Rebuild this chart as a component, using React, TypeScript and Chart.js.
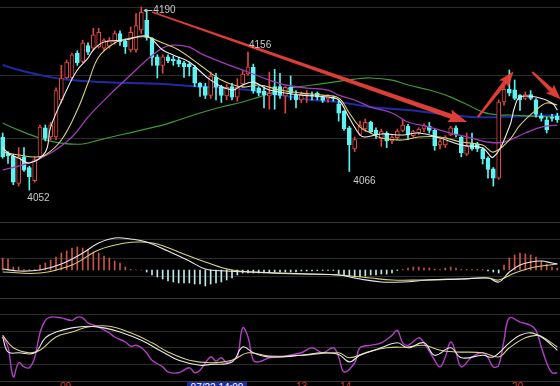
import React, { useEffect, useRef } from "react";
import { Chart, registerables } from "chart.js";

Chart.register(...registerables);

const N = 105;
const candleLabels = Array.from({ length: N }, (_, i) => String(i));

// ---- candles ----
const opens = [4092,4080,4077.6,4057,4077,4069,4059,4077,4099,4092,4092,4120,4136.5,4137,4155,4149,4161,4159,4160,4159,4160.5,4163.6,4170,4164.4,4157.6,4157.6,4172.7,4180,4166.6,4152.5,4146,4152.5,4150.5,4150,4148,4147,4144.5,4132.5,4130,4123.4,4137,4130,4123,4130,4122,4132,4139.5,4144.5,4129,4126.6,4123,4130,4130,4123,4129.5,4123.4,4120,4123,4123.4,4125,4122,4120.5,4121.5,4117,4111.5,4099,4083,4094,4098,4103,4097,4091,4095,4089,4091.5,4097,4100,4093,4095,4098,4100,4097,4086,4086,4093.5,4099,4092,4079,4087,4086.5,4083,4076,4068,4061,4118.4,4128,4127.5,4123.5,4121,4124,4120,4108,4105,4107,4108];
const highs = [4095,4081,4079,4084,4084,4070,4077,4101,4101,4103,4129,4146,4150,4155,4157,4165,4163,4174,4174,4166,4167,4172,4172,4166,4175,4185,4190,4188,4167,4154,4154,4154,4153,4152,4149,4148,4146,4133,4132.5,4141,4140,4131,4131.5,4132.5,4136,4142,4156,4147,4130,4130,4141,4143,4140,4130,4138,4127,4126,4127,4126,4126,4123,4124,4123,4119.5,4112,4100,4092,4104,4105.5,4104,4099,4098,4096,4093,4098,4105,4101.5,4097,4099,4102,4103,4098,4090,4093,4100,4100.5,4093,4095,4095,4088,4084,4077,4069,4120,4130,4142.5,4135,4124,4126,4127,4121,4110,4107,4109,4110];
const lows = [4076,4072,4056,4055,4066,4052,4058,4076,4089,4090,4090,4117.6,4136,4136,4146,4148,4154,4157.6,4159,4157,4159,4162,4161,4155,4156,4156,4170,4165,4146,4136.5,4140,4148,4146,4145,4137,4138,4130,4122.6,4121,4121,4120,4118,4120,4120,4119,4129.5,4138.7,4125,4123,4114,4113,4113,4121,4110,4120,4114,4118,4118,4120,4120,4118,4118,4119,4104,4097,4066,4081,4093,4096,4095,4091,4085,4084,4087,4090,4096,4090,4092,4094,4096,4095,4082,4083,4084,4093,4092,4077,4078,4082,4081,4071.6,4061,4055,4060,4116,4123,4120,4112,4120,4120,4107,4104,4095,4104,4103];
const closes = [4077,4078,4058,4077,4067,4062,4075,4099.5,4091,4101,4127,4136.5,4148.5,4154,4148,4163,4156,4169,4171,4165,4165,4170,4163.6,4160,4171,4176,4186,4167,4152,4146,4152.5,4149.5,4149.5,4147,4145,4145,4132.5,4129.5,4123.4,4138,4129.5,4123.4,4129.5,4122,4129.5,4139.5,4145,4127,4125,4123.6,4125,4124,4123.4,4129.5,4125,4120,4124,4124,4123,4122,4119.5,4123,4121,4110,4098,4086,4090,4100.6,4103,4096,4093.5,4096,4089,4092,4096.5,4101,4094,4096,4098,4101,4097,4085.5,4088.6,4091.5,4099,4094,4080,4085,4083,4083,4075.5,4067.5,4061,4118.4,4128,4125,4121,4120,4124,4121,4109,4106,4097.5,4106,4105];

// ---- moving averages ----
const ma5Idx = [0,1,3,5,8,9,12,14,16,17,19,23,27,30,32,35,39,43,45,47,50,56,61,63,65,67,68,71,75,78,82,86,90,92,95,96,97,100,103,104];
const ma5Val = [4084.4,4079.9,4076.1,4072.4,4080.6,4099.5,4127.4,4142.5,4151.5,4157.6,4163.6,4165.1,4168.1,4157.6,4153.8,4148.5,4134.9,4127.4,4131.2,4133.4,4127.4,4123.6,4122.1,4119.9,4106.3,4093.5,4092,4094.3,4093.5,4095,4091.2,4085.9,4083.7,4076.9,4099.5,4114.6,4122.1,4122.1,4117.6,4112.3];
const ma10Idx = [0,3,6,8,11,14,16,18,21,24,27,30,33,37,41,45,48,52,56,60,63,65,67,69,71,75,78,82,86,90,92,95,97,100,102,104];
const ma10Val = [4080.6,4078.4,4076.9,4078.4,4089.7,4112.3,4132.7,4152.3,4162.9,4166.6,4167.4,4162.9,4157.6,4146.3,4134.9,4129.7,4131.2,4127.4,4125.1,4123.6,4121.4,4110.1,4099.5,4095,4091.2,4089.7,4092,4092,4088.2,4085.9,4080.6,4089.7,4101,4112.3,4117.6,4116.1];
const ma20Idx = [0,5,9,13,16,20,24,27,30,32,35,37,41,46,50,53,57,61,63,66,69,73,76,80,84,88,91,94,98,101,104];
const ma20Val = [4067.1,4072.4,4079.9,4092,4107,4123.6,4138.7,4150,4159.1,4161.3,4159.8,4155.3,4148.5,4141,4134.9,4131.2,4128.9,4127.4,4123.6,4119.9,4114.6,4110.1,4103.3,4099.5,4095,4091.2,4088.2,4088.2,4095,4099.5,4101];
const ma60Idx = [0,3,7,11,15,18,22,26,30,33,37,41,45,48,51,54,58,62,66,69,73,76,80,84,88,90,93,95,99,104];
const ma60Val = [4102.5,4097.2,4091.2,4087.4,4086.7,4089.7,4093.5,4097.2,4101,4104.8,4110.1,4114.6,4118.4,4122.1,4125.9,4128.9,4131.2,4133.4,4135.7,4136.5,4134.9,4131.2,4127.4,4122.1,4114.6,4110.8,4108.6,4108.6,4107.8,4107];
const ma120Idx = [0,3,7,11,15,18,24,30,35,39,46,52,58,63,69,76,84,88,93,104];
const ma120Val = [4146.3,4142.5,4138.7,4135.7,4134.2,4133.4,4132.7,4131.9,4130.4,4129.7,4127.4,4123.6,4119.9,4118.4,4114.6,4112.3,4108.6,4107,4107,4108.6];

// ---- MACD ----
const macdHist = [12,11,3,3,0.5,0.5,0.5,5,7,10, 13,17,19,22,23,22,20,18,17,14, 12,9,7,3,0.5,0,0,-2,-5,-7, -9,-11,-12,-13,-13,-13,-14,-14,-16,-14, -13,-12,-10,-8,-5,-3,-3,-3,-3,-3, -2,-2,-2,-2,-2,-2,-1,-1,-1,-0.5, -0.5,-0.5,-0.5,-4,-5,-6,-7,-7,-6,-5, -5,-4,-4,-3,-0.5,0.5,2,3,3,2, 2,1,0.5,2,3,2,0.5,0.5,0.5,0.5, 0.5,-1,-2,-3,5,12,15,17,16,15, 13,9,6,3,2];
const difIdx = [0,3,7,11,15,18,21,24,27,31,35,38,42,47,52,58,63,67,71,75,80,86,91,93,95,97,99,101,103,104];
const difVal = [1,-1,0,6,17,27,32,31,28,19,9,1,-1,-2,-3,-4,-5,-9,-12,-12,-10,-9,-8,-12,-2,5,8,9,7,6];
const deaIdx = [0,7,13,18,23,26,29,33,38,43,50,56,63,69,73,78,86,91,93,96,99,101,104];
const deaVal = [-2,-3,5,20,27,28,26,18,8,0,-3,-4,-5,-8,-10,-10,-9,-8,-10,-3,2,4,6];

// ---- KDJ ----
const kIdx = [0,1,3,6,8,10,13,16,19,22,26,30,33,37,39,43,45,47,50,56,60,63,65,67,71,74,76,79,81,84,86,90,92,95,97,99,101,103,104];
const kVal = [53,35,34,34,52,59,64,66,64,59,49,35,25,19,20,23,41,34,29,31,34,32,23,31,40,46,40,46,31,40,28,31,29,46,55,58,53,43,37];
const dIdx = [0,2,5,7,10,13,16,20,24,28,31,35,39,43,46,50,56,63,65,68,72,76,79,82,85,90,93,95,98,100,101,104];
const dVal = [55,40,34,37,53,59,65,66,58,46,35,25,22,25,34,30,31,34,28,34,40,41,43,37,35,34,29,40,52,55,54,41];
const jIdx = [0,1,2,3,4,5,6,7,8,9,11,13,14,15,16,18,20,21,23,24,25,26,27,28,30,31,33,35,36,37,39,40,41,42,43,44,45,46,47,48,50,52,56,58,60,62,63,64,66,67,69,71,73,74,75,76,78,79,81,82,83,84,85,86,88,90,91,92,93,94,95,97,99,100,101,102,103,104];
const jVal = [55,41,5,22,17,16,28,58,73,77,76,73,77,76,70,65,58,53,47,42,43,40,34,25,17,11,10,16,10,13,29,24,28,22,25,29,64,53,25,23,28,29,34,40,34,40,29,11,22,40,43,46,55,61,46,43,52,46,25,17,29,47,34,17,29,34,28,17,19,49,76,71,67,61,41,22,10,10];

// ---- annotations ----
const markIdx = [26, 46, 65, 5];
const markPrice = [4190, 4156, 4066, 4052];
const markText = ["4190", "4156", "4066", "4052"];
const arrowFromIdx = [28.0, 89.1, 99.3];
const arrowFromPrice = [4186.2, 4107, 4141];
const arrowToIdx = [87.1, 95.8, 104.6];
const arrowToPrice = [4103.3, 4141.5, 4120.5];

const bottomTags = ["09", "13", "14", "20"];
const cursorTag = "07/22 14:00";

// ---- styling ----
const PRICE_MIN = 4027.9;
const PRICE_MAX = 4195.3;
const priceGrid = [4190, 4138.7, 4090.5];
const RED = "#e0473f";
const CYAN = "#5ef2f2";
const GRID = "#2c2c2c";
const FONT = "'Liberation Sans', 'DejaVu Sans', Arial, sans-serif";

function sparse(idx: number[], val: number[]) {
  const a: (number | null)[] = new Array(N).fill(null);
  idx.forEach((k, j) => {
    a[k] = val[j];
  });
  return a;
}

function yAxis(min: number, max: number, grid: number[]) {
  return {
    min,
    max,
    display: true,
    position: "left",
    ticks: { display: false },
    grid: { color: GRID, drawTicks: false, lineWidth: 1 },
    border: { display: false },
    afterBuildTicks: (axis: any) => {
      axis.ticks = grid.map((v) => ({ value: v }));
    },
    afterFit: (axis: any) => {
      axis.width = 0;
    },
  };
}

function lineDs(label: string, data: (number | null)[], color: string, width: number, order: number) {
  return {
    type: "line",
    label,
    data,
    borderColor: color,
    backgroundColor: color,
    borderWidth: width,
    pointRadius: 0,
    tension: 0.4,
    spanGaps: true,
    order,
  };
}

const xAxis = { type: "category", display: false, offset: true, grid: { display: false } };

function drawArrow(ctx: CanvasRenderingContext2D, x0: number, y0: number, x1: number, y1: number, w0: number, w1: number, hl: number, hw: number) {
  const dx = x1 - x0;
  const dy = y1 - y0;
  const len = Math.hypot(dx, dy);
  const ux = dx / len;
  const uy = dy / len;
  const nx = -uy;
  const ny = ux;
  const bx = x1 - ux * hl;
  const by = y1 - uy * hl;
  ctx.beginPath();
  ctx.moveTo(x0 + (nx * w0) / 2, y0 + (ny * w0) / 2);
  ctx.lineTo(bx + (nx * w1) / 2, by + (ny * w1) / 2);
  ctx.lineTo(bx - ux * 2 + (nx * hw) / 2, by - uy * 2 + (ny * hw) / 2);
  ctx.lineTo(x1, y1);
  ctx.lineTo(bx - ux * 2 - (nx * hw) / 2, by - uy * 2 - (ny * hw) / 2);
  ctx.lineTo(bx - (nx * w1) / 2, by - (ny * w1) / 2);
  ctx.lineTo(x0 - (nx * w0) / 2, y0 - (ny * w0) / 2);
  ctx.closePath();
  ctx.fill();
}

const annotPlugin = {
  id: "annot",
  afterDatasetsDraw(chart: any) {
    const { ctx } = chart;
    const xs = chart.scales.x;
    const ys = chart.scales.y;
    ctx.save();
    // arrows
    ctx.fillStyle = "rgba(232,64,56,0.95)";
    const shaft = [
      [1.5, 5, 17, 13],
      [2, 4.5, 14, 12],
      [2, 4.5, 13, 12],
    ];
    arrowFromIdx.forEach((_, k) => {
      const x0 = xs.getPixelForValue(arrowFromIdx[k]);
      const y0 = ys.getPixelForValue(arrowFromPrice[k]);
      const x1 = xs.getPixelForValue(arrowToIdx[k]);
      const y1 = ys.getPixelForValue(arrowToPrice[k]);
      const s = shaft[k];
      drawArrow(ctx, x0, y0, x1, y1, s[0], s[1], s[2], s[3]);
    });
    // price marks
    ctx.font = `10px ${FONT}`;
    ctx.fillStyle = "#c8c8c8";
    ctx.strokeStyle = "#c8c8c8";
    ctx.textBaseline = "middle";
    ctx.textAlign = "left";
    markIdx.forEach((idx, k) => {
      const px = xs.getPixelForValue(idx);
      const py = ys.getPixelForValue(markPrice[k]);
      if (k === 0) {
        ctx.lineWidth = 1;
        ctx.beginPath();
        ctx.moveTo(px + 3, py + 3.5);
        ctx.lineTo(px + 11, py + 3.5);
        ctx.stroke();
        ctx.beginPath();
        ctx.moveTo(px + 2, py + 3.5);
        ctx.lineTo(px + 5, py + 1.5);
        ctx.lineTo(px + 5, py + 5.5);
        ctx.closePath();
        ctx.fill();
        ctx.fillText(markText[k], px + 12, py + 3);
      } else if (k === 1) {
        ctx.fillText(markText[k], px + 1, py - 7);
      } else if (k === 2) {
        ctx.fillText(markText[k], px + 4, py + 10);
      } else {
        ctx.fillText(markText[k], px - 2, py + 8);
      }
    });
    ctx.restore();
  },
};

function mainConfig(): any {
  const up = closes.map((c, i) => c >= opens[i]);
  const candleColor = up.map((u) => (u ? RED : CYAN));
  const bodyFill = up.map((u) => (u ? "#000000" : CYAN));
  return {
    type: "bar",
    data: {
      labels: candleLabels,
      datasets: [
        lineDs("MA5", sparse(ma5Idx, ma5Val), "#ececec", 1.1, 0),
        lineDs("MA10", sparse(ma10Idx, ma10Val), "#d9cf7c", 1.1, 0),
        lineDs("MA20", sparse(ma20Idx, ma20Val), "#a03cb8", 1.3, 0),
        {
          type: "bar",
          label: "body",
          data: opens.map((o, i) => [o, closes[i]]),
          backgroundColor: bodyFill,
          borderColor: candleColor,
          borderWidth: 1,
          borderSkipped: false,
          barThickness: 4,
          grouped: false,
          minBarLength: 1,
          order: 1,
        },
        {
          type: "bar",
          label: "wick",
          data: lows.map((l, i) => [l, highs[i]]),
          backgroundColor: candleColor,
          borderWidth: 0,
          barThickness: 1,
          grouped: false,
          order: 2,
        },
        lineDs("MA60", sparse(ma60Idx, ma60Val), "#3f9a33", 1.2, 3),
        lineDs("MA120", sparse(ma120Idx, ma120Val), "#1f2aa6", 2, 3),
      ],
    },
    options: {
      responsive: false,
      animation: false,
      devicePixelRatio: 1,
      layout: { padding: 0 },
      plugins: { legend: { display: false }, tooltip: { enabled: false } },
      scales: { x: xAxis, y: yAxis(PRICE_MIN, PRICE_MAX, priceGrid) },
    },
    plugins: [annotPlugin],
  };
}

function macdConfig(): any {
  return {
    type: "bar",
    data: {
      labels: candleLabels,
      datasets: [
        lineDs("DIF", sparse(difIdx, difVal), "#e8e8e8", 1.1, 0),
        lineDs("DEA", sparse(deaIdx, deaVal), "#d6d27e", 1.1, 0),
        {
          type: "bar",
          label: "MACD",
          data: macdHist,
          backgroundColor: macdHist.map((v) => (v >= 0 ? "#c8544c" : "#bfeaea")),
          borderWidth: 0,
          barThickness: 1,
          order: 1,
        },
      ],
    },
    options: {
      responsive: false,
      animation: false,
      devicePixelRatio: 1,
      layout: { padding: 0 },
      plugins: { legend: { display: false }, tooltip: { enabled: false } },
      scales: { x: xAxis, y: yAxis(-28, 48, [31, 12, -7]) },
    },
  };
}

function kdjConfig(): any {
  return {
    type: "line",
    data: {
      labels: candleLabels,
      datasets: [
        lineDs("K", sparse(kIdx, kVal), "#e8e8e8", 1.1, 0),
        lineDs("D", sparse(dIdx, dVal), "#d6d080", 1.1, 1),
        lineDs("J", sparse(jIdx, jVal), "#b040c4", 1.4, 2),
      ],
    },
    options: {
      responsive: false,
      animation: false,
      devicePixelRatio: 1,
      layout: { padding: 0 },
      plugins: { legend: { display: false }, tooltip: { enabled: false } },
      scales: { x: xAxis, y: yAxis(0, 100, [80, 60, 40, 20]) },
    },
  };
}

export default function App() {
  const mainRef = useRef<HTMLCanvasElement>(null);
  const macdRef = useRef<HTMLCanvasElement>(null);
  const kdjRef = useRef<HTMLCanvasElement>(null);

  useEffect(() => {
    const charts = [
      new Chart(mainRef.current as HTMLCanvasElement, mainConfig()),
      new Chart(macdRef.current as HTMLCanvasElement, macdConfig()),
      new Chart(kdjRef.current as HTMLCanvasElement, kdjConfig()),
    ];
    return () => charts.forEach((c) => c.destroy());
  }, []);

  const tagX = [60, 296, 340, 512];
  return (
    <div
      style={{
        position: "fixed",
        left: 0,
        top: 0,
        width: 560,
        height: 386,
        background: "#000",
        overflow: "hidden",
        fontFamily: FONT,
      }}
    >
      <canvas ref={mainRef} width={560} height={222} style={{ position: "absolute", left: 0, top: 0 }} />
      <div style={{ position: "absolute", left: 0, top: 222, width: 560, height: 1, background: "#363636" }} />
      <canvas ref={macdRef} width={560} height={76} style={{ position: "absolute", left: 0, top: 222 }} />
      <div style={{ position: "absolute", left: 0, top: 298, width: 560, height: 1, background: "#363636" }} />
      <canvas ref={kdjRef} width={560} height={83} style={{ position: "absolute", left: 0, top: 298 }} />
      <div style={{ position: "absolute", left: 0, top: 381, width: 560, height: 1, background: "#363636" }} />
      {bottomTags.map((t, k) => (
        <div
          key={k}
          style={{ position: "absolute", left: tagX[k], top: 382, color: "#d03a32", fontSize: 10, lineHeight: "10px" }}
        >
          {t}
        </div>
      ))}
      <div
        style={{
          position: "absolute",
          left: 187,
          top: 382,
          width: 60,
          height: 12,
          background: "#1c2a9e",
          color: "#ffffff",
          fontSize: 10,
          lineHeight: "12px",
          textAlign: "center",
        }}
      >
        {cursorTag}
      </div>
    </div>
  );
}
